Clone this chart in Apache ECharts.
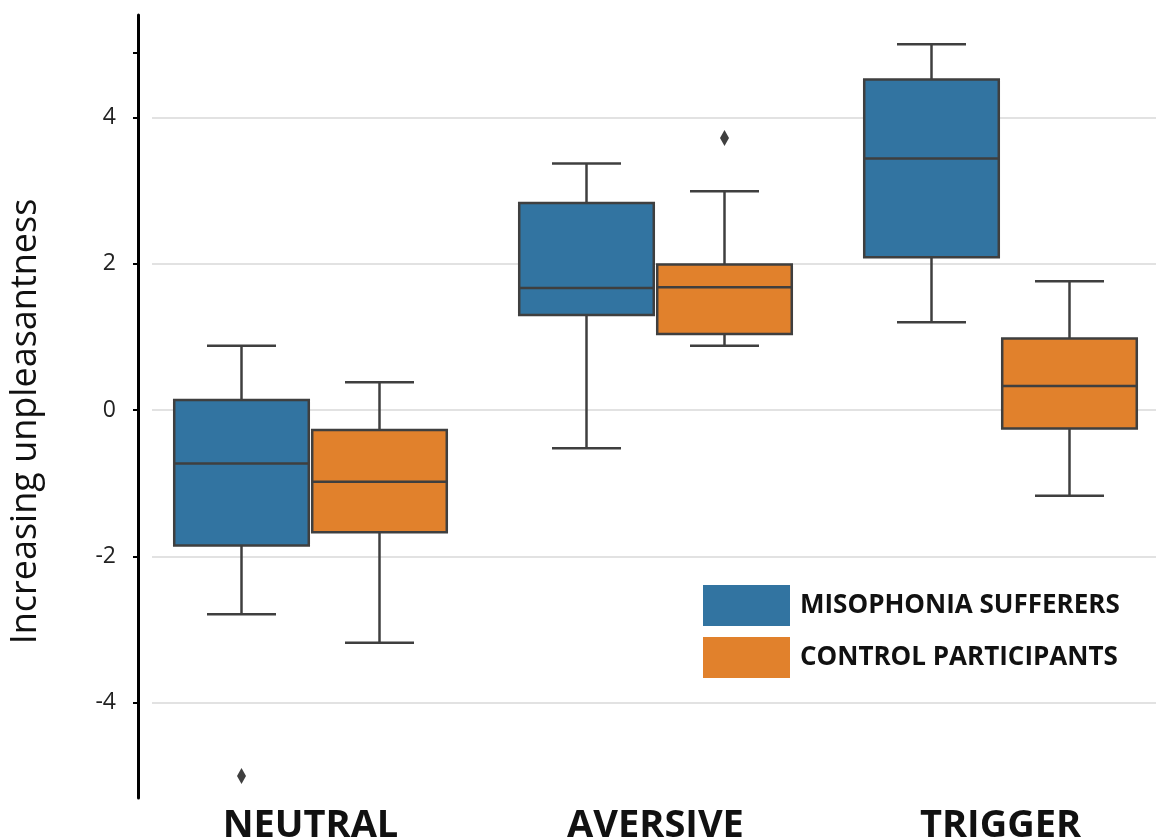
<!DOCTYPE html>
<html>
<head>
<meta charset="utf-8">
<script src="https://cdn.jsdelivr.net/npm/echarts@6/dist/echarts.min.js"></script>
<style>
html,body{margin:0;padding:0;background:#fff;overflow:hidden;width:1156px;height:840px;}
#chart{width:1180px;height:840px;}
</style>
</head>
<body>
<div id="chart"></div>
<script>
// ---- data ----
const categories = ['NEUTRAL', 'AVERSIVE', 'TRIGGER'];
const groupNames = ['MISOPHONIA SUFFERERS', 'CONTROL PARTICIPANTS'];
// [min whisker, Q1, median, Q3, max whisker]
const misophoniaBoxes = [
  [-2.79, -1.85, -0.73, 0.14, 0.88],
  [-0.52, 1.30, 1.67, 2.83, 3.37],
  [1.20, 2.09, 3.44, 4.52, 5.00]
];
const controlBoxes = [
  [-3.18, -1.67, -0.98, -0.27, 0.38],
  [0.88, 1.04, 1.68, 1.99, 2.99],
  [-1.17, -0.25, 0.33, 0.98, 1.76]
];
// [category index, value]
const misophoniaOutliers = [[0, -5.0]];
const controlOutliers = [[1, 3.72]];
const yTickLabels = [-4, -2, 0, 2, 4];
const extraTick = 4.88;

const colors = ['#3274a1', '#e1812c'];
const edge = '#3f3f3f';

const Y_MIN = -5.3, Y_MAX = 5.4;
const G_LEFT = 138, G_TOP = 15, G_WIDTH = 1035, G_HEIGHT = 783;
const pxPerUnit = G_HEIGHT / (Y_MAX - Y_MIN);

function makeRender(side, outliers) {
  return function (params, api) {
    const cat = api.value(0);
    const band = api.size([1, 0])[0];
    const cx = api.coord([cat, 0])[0] + side * band * 0.2;
    const bw = band * 0.39, cw = band * 0.2;
    const y = i => api.coord([cat, api.value(i)])[1];
    const yMin = y(1), yQ1 = y(2), yMed = y(3), yQ3 = y(4), yMax = y(5);
    const ls = { stroke: edge, lineWidth: 2.5 };
    const children = [
      { type: 'line', shape: { x1: cx, y1: yQ3, x2: cx, y2: yMax }, style: ls },
      { type: 'line', shape: { x1: cx, y1: yQ1, x2: cx, y2: yMin }, style: ls },
      { type: 'line', shape: { x1: cx - cw / 2, y1: yMax, x2: cx + cw / 2, y2: yMax }, style: ls },
      { type: 'line', shape: { x1: cx - cw / 2, y1: yMin, x2: cx + cw / 2, y2: yMin }, style: ls },
      { type: 'rect', shape: { x: cx - bw / 2, y: yQ3, width: bw, height: yQ1 - yQ3 },
        style: { fill: api.visual('color'), stroke: edge, lineWidth: 2.5 } },
      { type: 'line', shape: { x1: cx - bw / 2, y1: yMed, x2: cx + bw / 2, y2: yMed }, style: ls }
    ];
    outliers.filter(o => o[0] === cat).forEach(o => {
      const oy = api.coord([cat, o[1]])[1];
      children.push({ type: 'polygon', shape: { points: [[cx, oy - 8], [cx + 4.5, oy], [cx, oy + 8], [cx - 4.5, oy]] },
        style: { fill: edge } });
    });
    return { type: 'group', children };
  };
}

const toData = boxes => boxes.map((b, i) => [i].concat(b));

const chart = echarts.init(document.getElementById('chart'), null, { renderer: 'canvas' });
chart.setOption({
  animation: false,
  backgroundColor: '#ffffff',
  grid: [
    { left: G_LEFT, top: G_TOP, width: G_WIDTH, height: G_HEIGHT, outerBoundsMode: 'none', containLabel: false },
    { left: 152, top: G_TOP + (Y_MAX - 4) * pxPerUnit, width: G_WIDTH, height: 8 * pxPerUnit, outerBoundsMode: 'none', containLabel: false }
  ],
  xAxis: [
    { type: 'category', gridIndex: 0, data: categories,
      axisLine: { show: false }, axisTick: { show: false },
      axisLabel: { fontFamily: 'Open Sans', fontWeight: 'bold', fontSize: 38, color: '#111', margin: 9 } },
    { type: 'value', gridIndex: 1, show: false }
  ],
  yAxis: [
    { type: 'value', gridIndex: 0, min: Y_MIN, max: Y_MAX,
      name: 'Increasing unpleasantness', nameLocation: 'middle', nameRotate: 90, nameGap: 94,
      nameTextStyle: { fontFamily: 'Open Sans', fontSize: 36, color: '#111', padding: [0, 30, 0, 0] },
      axisLine: { show: true, lineStyle: { color: '#000', width: 3 } },
      axisTick: { show: true, customValues: yTickLabels.concat([extraTick]), length: 5, inside: false,
        lineStyle: { color: '#000', width: 2 } },
      axisLabel: { show: false }, splitLine: { show: false } },
    { type: 'value', gridIndex: 1, min: -4, max: 4, interval: 2,
      axisLine: { show: false }, axisTick: { show: false },
      axisLabel: { fontFamily: 'Open Sans', fontSize: 23, color: '#222', margin: 36 },
      splitLine: { show: true, lineStyle: { color: '#d9d9d9', width: 1.5 } } }
  ],
  legend: {
    data: groupNames, orient: 'vertical', left: 703, top: 585, padding: 0,
    icon: 'rect', itemWidth: 87, itemHeight: 41, itemGap: 11,
    itemStyle: { borderWidth: 0 },
    textStyle: { fontFamily: 'Open Sans', fontWeight: 'bold', fontSize: 26, color: '#111', padding: [0, 0, 0, 5] }
  },
  series: [
    { type: 'custom', name: groupNames[0], xAxisIndex: 0, yAxisIndex: 0,
      itemStyle: { color: colors[0] },
      renderItem: makeRender(-1, misophoniaOutliers), data: toData(misophoniaBoxes),
      encode: { x: 0, y: [1, 2, 3, 4, 5] }, clip: false },
    { type: 'custom', name: groupNames[1], xAxisIndex: 0, yAxisIndex: 0,
      itemStyle: { color: colors[1] },
      renderItem: makeRender(1, controlOutliers), data: toData(controlBoxes),
      encode: { x: 0, y: [1, 2, 3, 4, 5] }, clip: false }
  ]
});
</script>
</body>
</html>
